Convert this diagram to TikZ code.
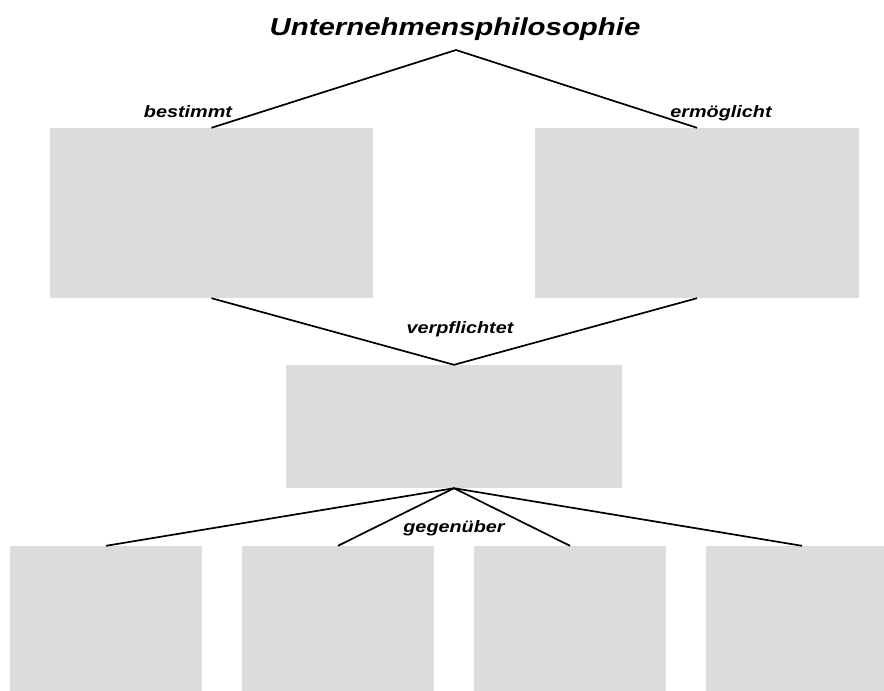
\documentclass[tikz,border=0pt]{standalone}
\usepackage{fontspec}
\usepackage{graphicx}
\setmainfont{Liberation Sans}
\usepackage{xcolor}
\usepackage{tikz}

\definecolor{boxgray}{HTML}{DCDCDC}
\newcommand{\wide}[1]{\scalebox{1.2}[1]{\bfseries\itshape #1}}

\begin{document}
\begin{tikzpicture}[x=1pt, y=-1pt,
    field/.style={rectangle, fill=boxgray, inner sep=0pt},
    link/.style={line width=1.7pt},
    rel/.style={anchor=base, inner sep=0pt, font=\fontsize{16.5}{18}\selectfont}]
      \useasboundingbox (0,0) rectangle (884,691);
      \node[anchor=base, inner sep=0pt, font=\fontsize{24.5}{27}\selectfont] (title) at (455,35) {\wide{Unternehmensphilosophie}};
      \coordinate (top) at (456,50);
      \node[field, minimum width=323pt, minimum height=170pt] (L) at (211.5,213) {};
      \node[field, minimum width=324pt, minimum height=170pt] (R) at (697,213) {};
      \node[field, minimum width=336pt, minimum height=123pt] (M) at (454,426.5) {};
      \node[field, minimum width=192pt, minimum height=145pt] (B1) at (106,618.5) {};
      \node[field, minimum width=192pt, minimum height=145pt] (B2) at (338,618.5) {};
      \node[field, minimum width=192pt, minimum height=145pt] (B3) at (570,618.5) {};
      \node[field, minimum width=192pt, minimum height=145pt] (B4) at (802,618.5) {};
      \node[rel] (bestimmt) at (188,117) {\wide{bestimmt}};
      \node[rel] (ermoeglicht) at (721,117) {\wide{ermöglicht}};
      \node[rel] (verpflichtet) at (460,333) {\wide{verpflichtet}};
      \node[rel] (gegenueber) at (454,532) {\wide{gegenüber}};
      \draw[link] (L.north) -- (top) -- (R.north);
      \draw[link] (L.south) -- (M.north) -- (R.south);
      \foreach \b in {B1,B2,B3,B4}
        \draw[link] (M.south) -- (\b.north);
    \end{tikzpicture}
\end{document}
